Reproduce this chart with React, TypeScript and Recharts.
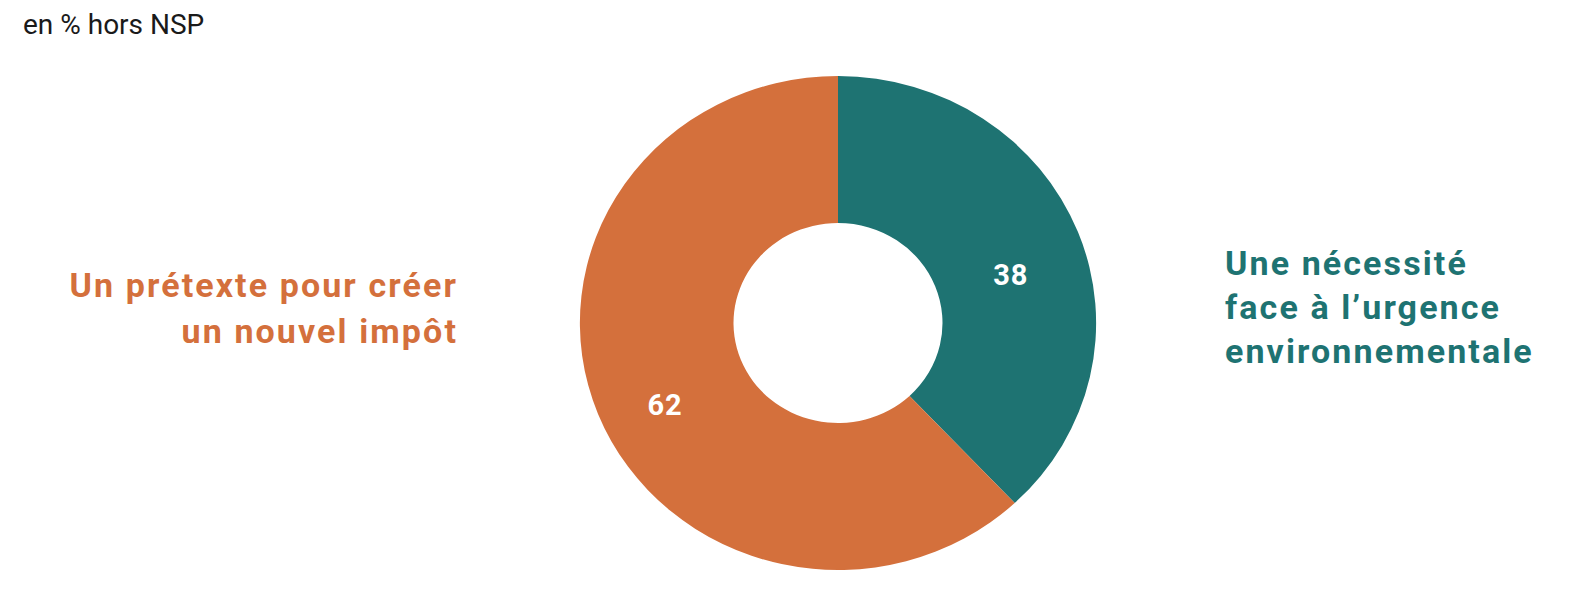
import React from "react";
import { PieChart, Pie, Cell } from "recharts";

const categories = [
  "Une nécessité face à l’urgence environnementale",
  "Un prétexte pour créer un nouvel impôt",
];
const values = [38, 62];
const colors = ["#1E7372", "#D4703C"];
const rightLabelLines = ["Une nécessité", "face à l’urgence", "environnementale"];
const leftLabelLines = ["Un prétexte pour créer", "un nouvel impôt"];
const subtitle = "en % hors NSP";

const data = categories.map((name, i) => ({ name, value: values[i] }));

const W = 1578;
const H = 592;
const CX = 838;
const CY = 323;
const STRETCH = 1.045;
const FONT = "Roboto, 'DejaVu Sans', sans-serif";
const LABEL_DY = 17;

const RADIAN = Math.PI / 180;

const renderLabel = (props: any) => {
  const { cx, cy, midAngle, innerRadius, outerRadius, value } = props;
  const r = innerRadius + (outerRadius - innerRadius) * 0.53;
  const a = midAngle * RADIAN;
  const x = cx + r * Math.cos(-a) * STRETCH;
  const y = cy + r * Math.sin(-a) + LABEL_DY;
  return (
    <text
      x={x}
      y={y}
      fill="#ffffff"
      textAnchor="middle"
      dominantBaseline="central"
      fontFamily={FONT}
      fontWeight={700}
      fontSize={29}
      letterSpacing={1}
    >
      {value}
    </text>
  );
};

export default function App() {
  return (
    <div
      style={{
        position: "absolute",
        left: 0,
        top: 0,
        width: W,
        height: H,
        background: "#ffffff",
        fontFamily: FONT,
      }}
    >
      <style>{`
        path.recharts-sector {
          transform: scaleX(${STRETCH});
          transform-origin: ${CX}px ${CY}px;
        }
      `}</style>
      <div
        style={{
          position: "absolute",
          left: 23,
          top: 8,
          fontSize: 28,
          color: "#1a1a1a",
          lineHeight: "34px",
        }}
      >
        {subtitle}
      </div>
      <div
        style={{
          position: "absolute",
          right: W - 458,
          top: 262,
          textAlign: "right",
          fontSize: 34,
          fontWeight: 700,
          letterSpacing: 2.1,
          color: colors[1],
          lineHeight: "46px",
          whiteSpace: "nowrap",
        }}
      >
        {leftLabelLines.map((l, i) => (
          <div key={i}>{l}</div>
        ))}
      </div>
      <div
        style={{
          position: "absolute",
          left: 1225,
          top: 241,
          textAlign: "left",
          fontSize: 34,
          fontWeight: 700,
          letterSpacing: 2.1,
          color: colors[0],
          lineHeight: "44px",
          whiteSpace: "nowrap",
        }}
      >
        {rightLabelLines.map((l, i) => (
          <div key={i}>{l}</div>
        ))}
      </div>
      <PieChart
        width={W}
        height={H}
        margin={{ top: 0, right: 0, bottom: 0, left: 0 }}
        style={{ position: "absolute", left: 0, top: 0 }}
      >
        <Pie
          data={data}
          dataKey="value"
          nameKey="name"
          cx={CX}
          cy={CY}
          innerRadius={100}
          outerRadius={247}
          startAngle={90}
          endAngle={-270}
          stroke="none"
          label={renderLabel}
          labelLine={false}
          isAnimationActive={false}
        >
          {data.map((d, i) => (
            <Cell key={d.name} fill={colors[i]} />
          ))}
        </Pie>
      </PieChart>
    </div>
  );
}
